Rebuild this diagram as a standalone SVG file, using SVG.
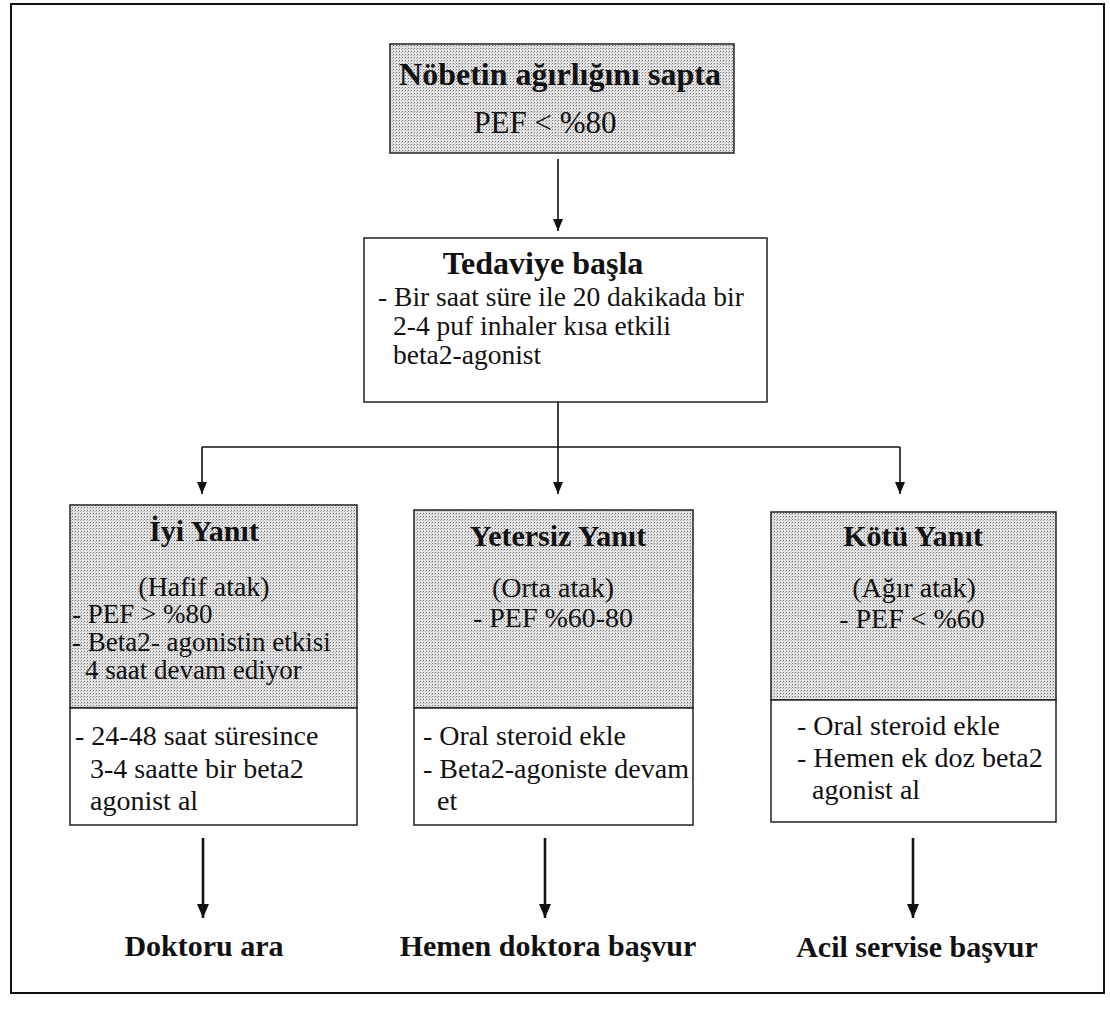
<svg xmlns="http://www.w3.org/2000/svg" width="1110" height="1017" viewBox="0 0 1110 1017">
  <defs>
    <!-- stippled grey fill used for the assessment boxes -->
    <pattern id="stipple" width="3" height="3" patternUnits="userSpaceOnUse">
      <rect width="3" height="3" fill="#e4e4e4"/>
      <rect width="1" height="1" fill="#707070"/>
      <rect x="2" y="1" width="1" height="1" fill="#b0b0b0"/>
    </pattern>
    <marker id="head" viewBox="0 0 12 10" refX="12" refY="5" markerWidth="12" markerHeight="10" markerUnits="userSpaceOnUse" orient="auto">
      <path d="M0,0 L12,5 L0,10 Z" fill="#111"/>
    </marker>
    <marker id="headBig" viewBox="0 0 14 12" refX="14" refY="6" markerWidth="14" markerHeight="12" markerUnits="userSpaceOnUse" orient="auto">
      <path d="M0,0 L14,6 L0,12 Z" fill="#111"/>
    </marker>
  </defs>
  <style>
    .frame { fill: #fff; stroke: #111; stroke-width: 2; }
    .shade { fill: url(#stipple); stroke: #222; stroke-width: 1.5; }
    .plain { fill: #fff; stroke: #222; stroke-width: 1.5; }
    text { font-family: "Liberation Serif", "Times New Roman", serif; fill: #111; }
    .h1 { font-size: 32px; font-weight: bold; text-anchor: middle; }
    .h2 { font-size: 30px; font-weight: bold; text-anchor: middle; }
    .c { font-size: 28px; text-anchor: middle; }
    .b { font-size: 28px; }
    .s { font-size: 27px; }
    .m { font-size: 27.5px; }
    .pef { font-size: 31px; text-anchor: middle; }
    .wire { fill: none; stroke: #111; stroke-width: 1.6; }
    .wire-thick { fill: none; stroke: #111; stroke-width: 2.6; }
  </style>

  <rect class="frame" x="11" y="4" width="1093" height="989"/>

  <!-- connectors -->
  <g id="connectors">
    <line class="wire" x1="558" y1="159" x2="558" y2="231" marker-end="url(#head)"/>
    <polyline class="wire" points="558,402 558,447"/>
    <polyline class="wire" points="202,447 900,447"/>
    <line class="wire" x1="202" y1="447" x2="202" y2="494" marker-end="url(#head)"/>
    <line class="wire" x1="558" y1="447" x2="558" y2="494" marker-end="url(#head)"/>
    <line class="wire" x1="900" y1="447" x2="900" y2="494" marker-end="url(#head)"/>
    <line class="wire-thick" x1="203" y1="838" x2="203" y2="918" marker-end="url(#headBig)"/>
    <line class="wire-thick" x1="545" y1="838" x2="545" y2="918" marker-end="url(#headBig)"/>
    <line class="wire-thick" x1="913" y1="838" x2="913" y2="918" marker-end="url(#headBig)"/>
  </g>

  <g id="assess">
    <rect class="shade" x="390" y="44" width="344" height="109"/>
    <text class="h1" x="560" y="85">Nöbetin ağırlığını sapta</text>
    <text class="pef" x="545" y="133">PEF &lt; %80</text>
  </g>

  <g id="start">
    <rect class="plain" x="364" y="238" width="403" height="164"/>
    <text class="h1" x="543" y="274">Tedaviye başla</text>
    <text class="m" x="378" y="306">- Bir saat süre ile 20 dakikada bir</text>
    <text class="m" x="393" y="335">2-4 puf inhaler kısa etkili</text>
    <text class="m" x="393" y="364">beta2-agonist</text>
  </g>

  <g id="good">
    <rect class="shade" x="70" y="505" width="287" height="203"/>
    <text class="h2" x="204" y="541">İyi Yanıt</text>
    <text class="c" x="204" y="596">(Hafif atak)</text>
    <text class="s" x="72" y="623">- PEF &gt; %80</text>
    <text class="s" x="72" y="651">- Beta2- agonistin etkisi</text>
    <text class="s" x="85" y="679">4 saat devam ediyor</text>
    <rect class="plain" x="70" y="708" width="287" height="117"/>
    <text class="b" x="75" y="745">- 24-48 saat süresince</text>
    <text class="b" x="90" y="778">3-4 saatte bir beta2</text>
    <text class="b" x="90" y="810">agonist al</text>
  </g>

  <g id="partial">
    <rect class="shade" x="414" y="510" width="279" height="198"/>
    <text class="h2" x="558" y="546">Yetersiz Yanıt</text>
    <text class="c" x="553" y="597">(Orta atak)</text>
    <text class="c" x="553" y="627">- PEF %60-80</text>
    <rect class="plain" x="414" y="708" width="279" height="117"/>
    <text class="b" x="423" y="745">- Oral steroid ekle</text>
    <text class="b" x="423" y="778">- Beta2-agoniste devam</text>
    <text class="b" x="437" y="810">et</text>
  </g>

  <g id="poor">
    <rect class="shade" x="771" y="512" width="285" height="188"/>
    <text class="h2" x="913" y="546">Kötü Yanıt</text>
    <text class="c" x="914" y="597">(Ağır atak)</text>
    <text class="c" x="912" y="628">- PEF &lt; %60</text>
    <rect class="plain" x="771" y="700" width="285" height="122"/>
    <text class="b" x="797" y="735">- Oral steroid ekle</text>
    <text class="b" x="797" y="767">- Hemen ek doz beta2</text>
    <text class="b" x="812" y="799">agonist al</text>
  </g>

  <g id="out-doctor">
    <text class="h2" x="204" y="956">Doktoru ara</text>
  </g>
  <g id="out-urgent">
    <text class="h2" x="548" y="956">Hemen doktora başvur</text>
  </g>
  <g id="out-er">
    <text class="h2" x="917" y="957">Acil servise başvur</text>
  </g>
</svg>
